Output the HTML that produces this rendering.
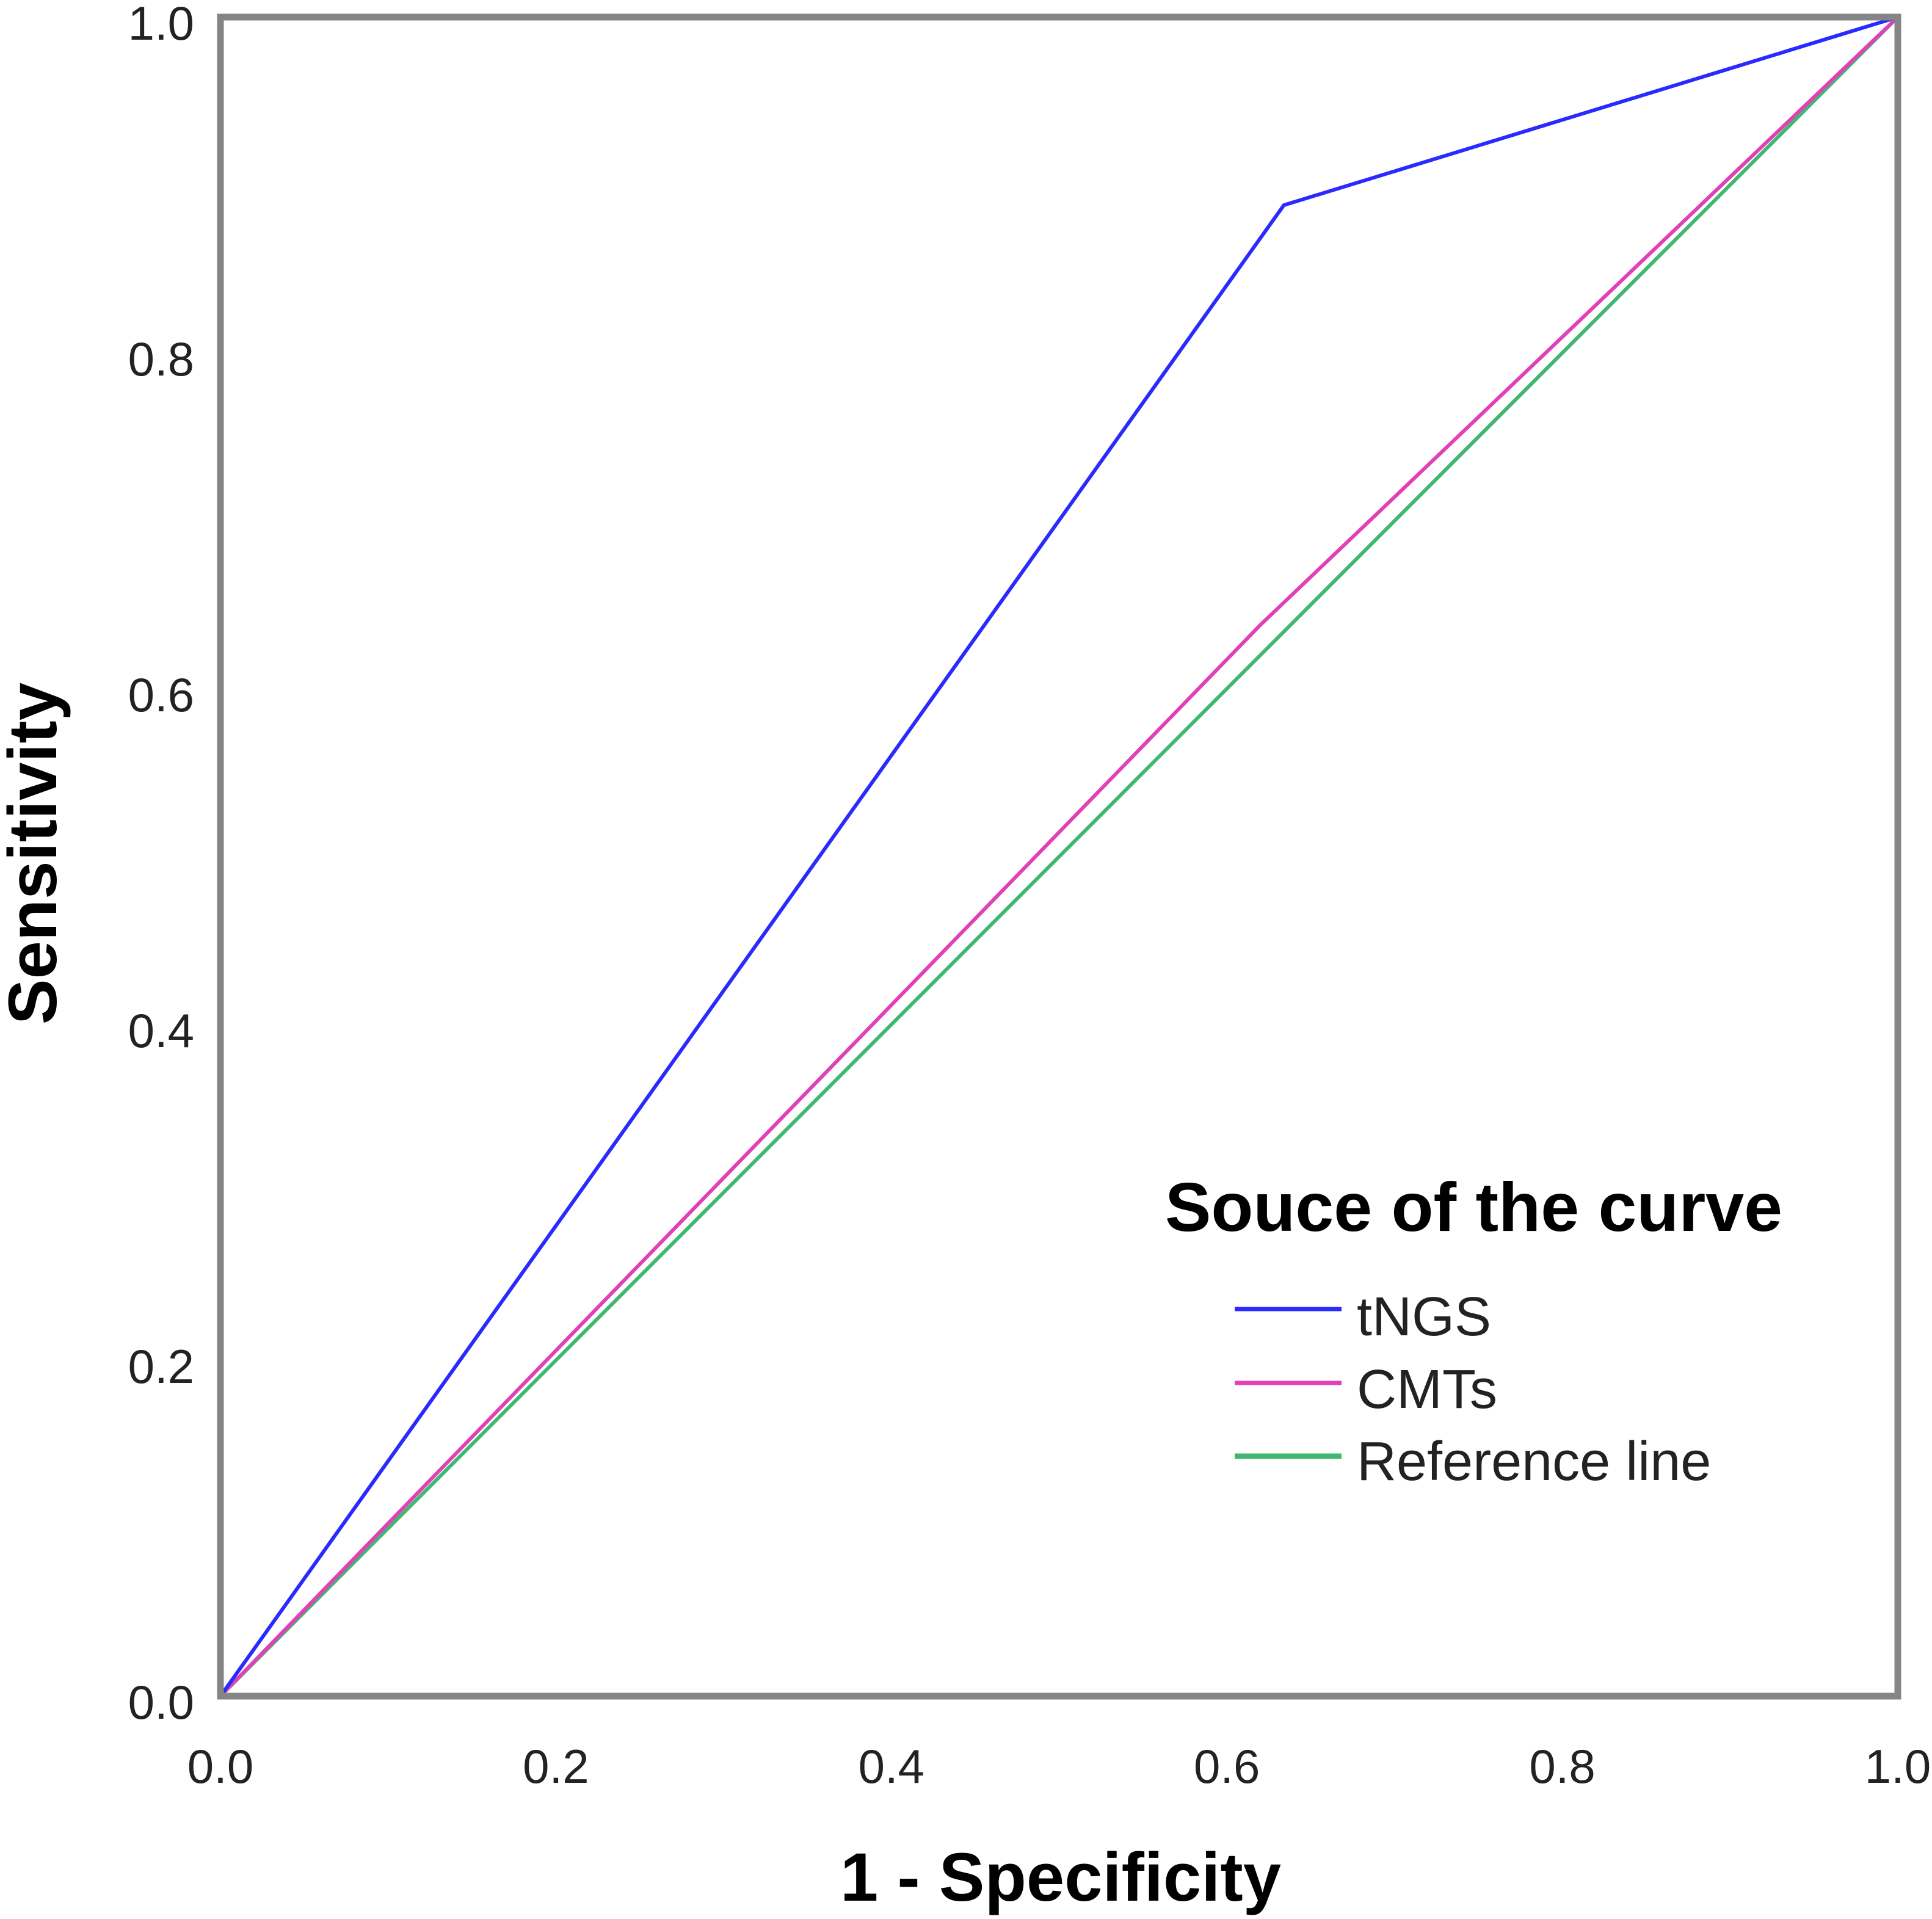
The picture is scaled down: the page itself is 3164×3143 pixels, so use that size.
<!DOCTYPE html>
<html><head><meta charset="utf-8"><style>
html,body{margin:0;padding:0;background:#fff;}
svg{display:block;font-family:"Liberation Sans",Arial,sans-serif;}
</style></head><body>
<svg id="chart" width="3164" height="3143" viewBox="0 0 3164 3143" xmlns="http://www.w3.org/2000/svg">
<g id="plot"></g>
<g id="legend">
<text x="1908" y="2016" font-size="113" font-weight="bold" fill="#000">Souce of the curve</text>
</g>
<text x="1737" y="3113" font-size="112" font-weight="bold" text-anchor="middle" fill="#000">1 - Specificity</text>
<text transform="translate(92,1398) rotate(-90)" font-size="112" font-weight="bold" text-anchor="middle" fill="#000">Sensitivity</text>
</svg>
<script>
const seriesNames = ["tNGS", "CMTs", "Reference line"];
const tngsX = [0, 0.634, 1];
const tngsY = [0, 0.888, 1];
const cmtsX = [0, 0.62, 1];
const cmtsY = [0, 0.638, 1];
const refX = [0, 1];
const refY = [0, 1];
const xTicks = [0, 0.2, 0.4, 0.6, 0.8, 1.0];
const yTicks = [0, 0.2, 0.4, 0.6, 0.8, 1.0];

const NS = "http://www.w3.org/2000/svg";
const L = 361, R = 3108, T = 28, B = 2778;
function sx(v){ return L + v * (R - L); }
function sy(v){ return B - v * (B - T); }
const plot = document.getElementById('plot');
const legend = document.getElementById('legend');

function mk(tag, attrs, parent){
  const e = document.createElementNS(NS, tag);
  for (const k in attrs) e.setAttribute(k, attrs[k]);
  parent.appendChild(e);
  return e;
}

const frame = mk('rect', {x:L, y:T, width:R-L, height:B-T, fill:'#fff', stroke:'#858585', 'stroke-width':11}, plot);



yTicks.forEach(v => {
  const t = mk('text', {x:318, y:sy(v)+37, 'font-size':78, 'text-anchor':'end', fill:'#222'}, plot);
  t.textContent = v.toFixed(1);
  
  
});
xTicks.forEach(v => {
  const t = mk('text', {x:sx(v), y:2920, 'font-size':78, 'text-anchor':'middle', fill:'#222'}, plot);
  t.textContent = v.toFixed(1);
  
  
});

const colors = ['#2a2aff', '#e040b8', '#40b870'];
const xs = [tngsX, cmtsX, refX];
const ys = [tngsY, cmtsY, refY];
const order = [2, 1, 0];
order.forEach(i => {
  const pts = xs[i].map((x, j) => sx(x) + ',' + sy(ys[i][j])).join(' ');
  const pl = mk('polyline', {points:pts, fill:'none', stroke:colors[i], 'stroke-width':6, 'stroke-linejoin':'round'}, plot);
  
  
});
const border = mk('rect', {x:L, y:T, width:R-L, height:B-T, fill:'none', stroke:'#858585', 'stroke-width':11}, plot);



const legY = [2144, 2265, 2385];
const legTextY = [2187, 2306, 2424];
seriesNames.forEach((n, i) => {
  const ln = mk('line', {x1:2022, x2:2197, y1:legY[i], y2:legY[i], stroke:colors[i], 'stroke-width':i===2?9:7}, legend);
  
  
  const t = mk('text', {x:2222, y:legTextY[i], 'font-size':90, fill:'#222'}, legend);
  t.textContent = n;
  
  
});
</script>
</body></html>
